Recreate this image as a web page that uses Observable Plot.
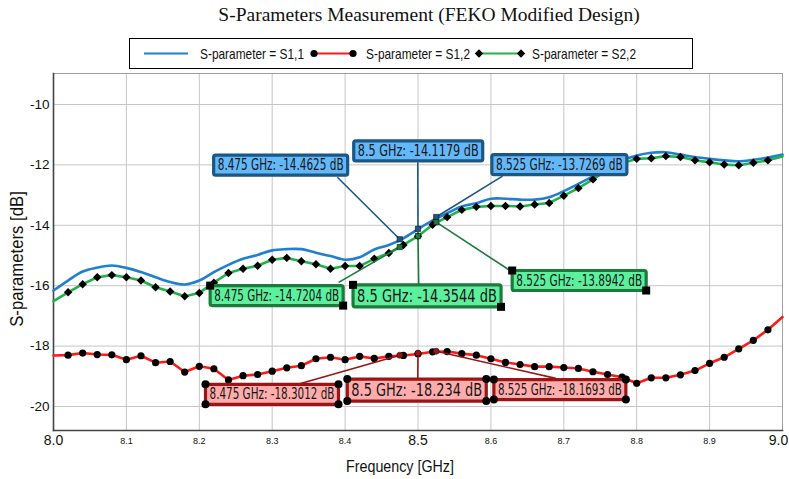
<!DOCTYPE html>
<html><head><meta charset="utf-8">
<script src="https://cdn.jsdelivr.net/npm/d3@7"></script>
<script src="https://cdn.jsdelivr.net/npm/@observablehq/plot@0.6"></script>
<style>
body{margin:0;background:#fff;}
#wrap{position:relative;width:789px;height:479px;overflow:hidden;font-family:"Liberation Sans",Arial,sans-serif;}
#title{position:absolute;left:0;top:4px;width:858px;text-align:center;font-family:"Liberation Serif","DejaVu Serif",serif;font-size:19.5px;color:#111;white-space:nowrap;}
#legend{position:absolute;left:129px;top:38px;width:562px;height:29px;border:1px solid #000;}
#legend svg{display:block;}
#chart{position:absolute;left:0;top:70px;}
.axlab{position:absolute;color:#111;white-space:nowrap;}
#xlab{left:300px;width:200px;text-align:center;top:457px;font-size:17px;transform:scaleX(0.84);}
#ylab{left:-83px;top:248px;width:200px;text-align:center;font-size:19px;transform:rotate(-90deg) scaleX(0.88);}
</style></head><body>
<div id="wrap">
 <div id="title">S-Parameters Measurement (FEKO Modified Design)</div>
 <div id="legend"></div>
 <div id="chart"></div>
 <div class="axlab" id="xlab">Frequency [GHz]</div>
 <div class="axlab" id="ylab">S-parameters [dB]</div>
</div>
<script>
// ---- data (GHz, dB) ----
const freq = [8.00,8.02,8.04,8.06,8.08,8.10,8.12,8.14,8.16,8.18,8.20,8.22,8.24,8.26,8.28,8.30,8.32,8.34,8.36,8.38,8.40,8.42,8.44,8.46,8.48,8.50,8.52,8.54,8.56,8.58,8.60,8.62,8.64,8.66,8.68,8.70,8.72,8.74,8.76,8.78,8.80,8.82,8.84,8.86,8.88,8.90,8.92,8.94,8.96,8.98,9.00];
const s11 = [-16.16,-15.83,-15.53,-15.40,-15.33,-15.41,-15.55,-15.72,-15.88,-15.96,
  -15.83,-15.55,-15.31,-15.11,-14.98,-14.83,-14.79,-14.79,-14.91,-15.02,
  -15.14,-15.06,-14.80,-14.65,-14.43,-14.13,-13.84,-13.60,-13.38,-13.27,
  -13.12,-13.12,-13.15,-13.15,-13.07,-12.87,-12.63,-12.38,-12.12,-11.86,
  -11.69,-11.60,-11.58,-11.66,-11.74,-11.80,-11.85,-11.88,-11.83,-11.76,
  -11.66];
const s22 = [-16.51,-16.22,-15.95,-15.72,-15.65,-15.72,-15.83,-16.05,-16.19,-16.35,
  -16.24,-15.90,-15.58,-15.44,-15.34,-15.14,-15.08,-15.19,-15.29,-15.44,
  -15.35,-15.35,-15.11,-14.92,-14.65,-14.36,-13.98,-13.73,-13.49,-13.39,
  -13.36,-13.36,-13.38,-13.31,-13.26,-13.02,-12.77,-12.48,-12.16,-11.95,
  -11.80,-11.78,-11.71,-11.74,-11.85,-11.91,-11.99,-12.01,-11.93,-11.85,
  -11.72];
const s12 = [-18.31,-18.30,-18.23,-18.28,-18.29,-18.45,-18.32,-18.55,-18.51,-18.86,
  -18.67,-18.75,-19.12,-18.98,-18.94,-18.83,-18.72,-18.65,-18.42,-18.37,
  -18.45,-18.34,-18.41,-18.34,-18.31,-18.26,-18.19,-18.18,-18.25,-18.30,
  -18.42,-18.54,-18.61,-18.68,-18.68,-18.71,-18.74,-18.85,-18.94,-19.03,
  -19.23,-19.05,-19.05,-18.95,-18.81,-18.57,-18.37,-18.09,-17.81,-17.46,
  -17.04];

const seriesNames = ["S1,1", "S1,2", "S2,2"];
const xMinorTicks = [8.1,8.2,8.3,8.4,8.6,8.7,8.8,8.9];
const xMajorTicks = [8.0,8.5];
const xEndTicks = [9.0];
const xGridTicks = [8.1,8.2,8.3,8.4,8.5,8.6,8.7,8.8,8.9];
const yTicks = [-20,-18,-16,-14,-12,-10];

// callout values (frequency GHz, dB)
const calloutFreq = [8.475, 8.5, 8.525];
const s11Callout = [-14.4625, -14.1179, -13.7269];
const s22Callout = [-14.7204, -14.3544, -13.8942];
const s12Callout = [-18.3012, -18.234, -18.1693];

// callout placement (label centre and leader end, in data units), font size, text width
const s11Place = {box: [[8.3116,-12.01],[8.5003,-11.54],[8.6939,-11.99]], end: [[8.3894,-12.41],[8.4997,-11.92],[8.6159,-12.37]], size: [15.5,15.5,15.5], width: [126,121,127]};
const s22Place = {box: [[8.3061,-16.33],[8.5124,-16.35],[8.7211,-15.83]], end: [[8.3912,-15.89],[8.5010,-15.99],[8.6300,-15.56]], size: [15.5,17.5,15.5], width: [125,140,126]};
const s12Place = {box: [[8.2997,-19.60],[8.4983,-19.47],[8.6946,-19.44]], end: [[8.3390,-19.24],[8.4997,-19.07],[8.6890,-19.07]], size: [15.5,17.5,15.5], width: [125,131,124]};

// ---- styles ----
const C = {
  s11: "#1f7fd1", s12: "#ff1a1a", s22: "#22b24c",
  s11Box: {fill: "#63b8fa", stroke: "#1b5784", lead: "#1b5784", pt: "#1b5784"},
  s22Box: {fill: "#5cf09e", stroke: "#1c7a3c", lead: "#1c7a3c", pt: "#1c7a3c"},
  s12Box: {fill: "#ffacac", stroke: "#9c1414", lead: "#9c1414", pt: "#9c1414"}
};

const mk = (vals) => freq.map((f, i) => ({f, v: vals[i], i}));
const d11 = mk(s11), d22 = mk(s22), d12 = mk(s12);
const interior = d => d.i > 0 && d.i < freq.length - 1;

const mkCallouts = (vals, place) => calloutFreq.map((f, i) => ({
  f, v: vals[i],
  bx: place.box[i][0], by: place.box[i][1],
  ex: place.end[i][0], ey: place.end[i][1],
  size: place.size[i], tw: place.width[i],
  label: `${f} GHz: ${vals[i]} dB`
}));
const c11 = mkCallouts(s11Callout, s11Place);
const c22 = mkCallouts(s22Callout, s22Place);
const c12 = mkCallouts(s12Callout, s12Place);

const calloutFont = "'DejaVu Sans',sans-serif";

function calloutMarks(data, st, key, sym) {
  return [
    Plot.link(data, {x1: "f", y1: "v", x2: "ex", y2: "ey", stroke: st.lead, strokeWidth: 1.6}),
    Plot.dot(data, {x: "f", y: "v", r: 3, symbol: sym, fill: st.pt, stroke: "#111", strokeWidth: 0.6}),
    Plot.text(data, {x: "bx", y: "by", text: "label", fontSize: "size", fill: "#151515",
      fontFamily: calloutFont, textAnchor: "middle", ariaDescription: key})
  ];
}

const plot = Plot.plot({
  width: 789, height: 409,
  marginTop: 3, marginBottom: 49, marginLeft: 53, marginRight: 7,
  x: {domain: [8, 9]},
  y: {domain: [-20.795, -8.974]},
  style: {fontFamily: "'Liberation Sans',Arial,sans-serif", background: "#fff", color: "#111", overflow: "visible"},
  marks: [
    Plot.gridX(xGridTicks, {stroke: "#c6c6c6", strokeOpacity: 1, strokeWidth: 1}),
    Plot.gridY(yTicks, {stroke: "#c6c6c6", strokeOpacity: 1, strokeWidth: 1}),
    Plot.frame({stroke: "#a0a0a0"}),
    Plot.frame({anchor: "left", stroke: "#444", strokeWidth: 1.6}),
    Plot.frame({anchor: "bottom", stroke: "#444", strokeWidth: 1.6}),
    Plot.axisX(xMinorTicks, {tickSize: 0, tickPadding: 7, fontSize: 9, tickFormat: d => d.toFixed(1), label: null}),
    Plot.axisX(xMajorTicks, {tickSize: 0, tickPadding: 5, fontSize: 14, tickFormat: d => d.toFixed(1), label: null}),
    Plot.axisX(xEndTicks, {tickSize: 0, tickPadding: 5, fontSize: 14, dx: -4, tickFormat: d => d.toFixed(1), label: null}),
    Plot.axisY(yTicks, {tickSize: 0, tickPadding: 4, fontSize: 13.5, tickFormat: d => String(d), label: null}),
    Plot.line(d11, {x: "f", y: "v", stroke: C.s11, strokeWidth: 2.6, curve: "catmull-rom"}),
    Plot.line(d22, {x: "f", y: "v", stroke: C.s22, strokeWidth: 2.6}),
    Plot.line(d12, {x: "f", y: "v", stroke: C.s12, strokeWidth: 2.6}),
    Plot.dot(d22.filter(interior), {x: "f", y: "v", symbol: "diamond2", r: 3.8, fill: "#000"}),
    Plot.dot(d12.filter(interior), {x: "f", y: "v", symbol: "circle", r: 3.6, fill: "#000"}),
    ...calloutMarks(c11, C.s11Box, "callout-s11", "square"),
    ...calloutMarks(c22, C.s22Box, "callout-s22", "square"),
    ...calloutMarks(c12, C.s12Box, "callout-s12", "circle")
  ]
});
document.getElementById("chart").appendChild(plot);

// boxes behind the callout texts (text condensed horizontally to the box width)
const NS = "http://www.w3.org/2000/svg";
const boxStyles = [["callout-s11", C.s11Box, null, c11], ["callout-s22", C.s22Box, "square", c22], ["callout-s12", C.s12Box, "circle", c12]];
for (const [key, st, handle, data] of boxStyles) {
  plot.querySelectorAll(`g[aria-description="${key}"] text`).forEach((t, k) => {
    const bb = t.getBBox();
    const sx = data[k].tw / bb.width;
    const tr = t.getAttribute("transform") || "";
    t.setAttribute("transform", `${tr} scale(${sx},1)`);
    const g = document.createElementNS(NS, "g");
    if (tr) g.setAttribute("transform", tr);
    const r = document.createElementNS(NS, "rect");
    const x = bb.x * sx - 4, y = bb.y - 1, w = data[k].tw + 8, h = bb.height + 2;
    r.setAttribute("x", x); r.setAttribute("y", y);
    r.setAttribute("width", w); r.setAttribute("height", h);
    r.setAttribute("rx", 2);
    r.setAttribute("fill", st.fill); r.setAttribute("stroke", st.stroke); r.setAttribute("stroke-width", 3.2);
    g.appendChild(r);
    if (handle === "square") {
      for (const [hx, hy] of [[x, y], [x + w, y + h]]) {
        const s = document.createElementNS(NS, "rect");
        s.setAttribute("x", hx - 4); s.setAttribute("y", hy - 4);
        s.setAttribute("width", 8); s.setAttribute("height", 8); s.setAttribute("fill", "#000");
        g.appendChild(s);
      }
    } else if (handle === "circle") {
      for (const [hx, hy] of [[x, y], [x + w, y], [x, y + h], [x + w, y + h]]) {
        const c = document.createElementNS(NS, "circle");
        c.setAttribute("cx", hx); c.setAttribute("cy", hy); c.setAttribute("r", 4); c.setAttribute("fill", "#000");
        g.appendChild(c);
      }
    }
    t.parentNode.insertBefore(g, t);
  });
}

// legend
const legend = d3.select("#legend").append("svg").attr("width", 562).attr("height", 29)
  .style("font-family", "'Liberation Sans',Arial,sans-serif");
const legItems = [
  {name: seriesNames[0], color: C.s11, x0: 14, x1: 58, tx: 70, sym: null},
  {name: seriesNames[1], color: C.s12, x0: 184, x1: 223, tx: 236, sym: "circle"},
  {name: seriesNames[2], color: C.s22, x0: 349, x1: 391, tx: 402, sym: "diamond"}
];
for (const it of legItems) {
  legend.append("line").attr("x1", it.x0).attr("x2", it.x1).attr("y1", 14.5).attr("y2", 14.5)
    .attr("stroke", it.color).attr("stroke-width", 2.2);
  for (const px of [it.x0, it.x1]) {
    if (it.sym === "circle") legend.append("circle").attr("cx", px).attr("cy", 14.5).attr("r", 3.6).attr("fill", "#000");
    if (it.sym === "diamond") legend.append("path").attr("d", d3.symbol(d3.symbolDiamond2, 45)()).attr("transform", `translate(${px},14.5)`).attr("fill", "#000");
  }
  legend.append("text").attr("x", it.tx).attr("y", 14.5).attr("dy", "0.35em").attr("font-size", 15)
    .attr("textLength", 104).attr("lengthAdjust", "spacingAndGlyphs")
    .attr("fill", "#111").text(`S-parameter = ${it.name}`);
}
</script>
</body></html>
